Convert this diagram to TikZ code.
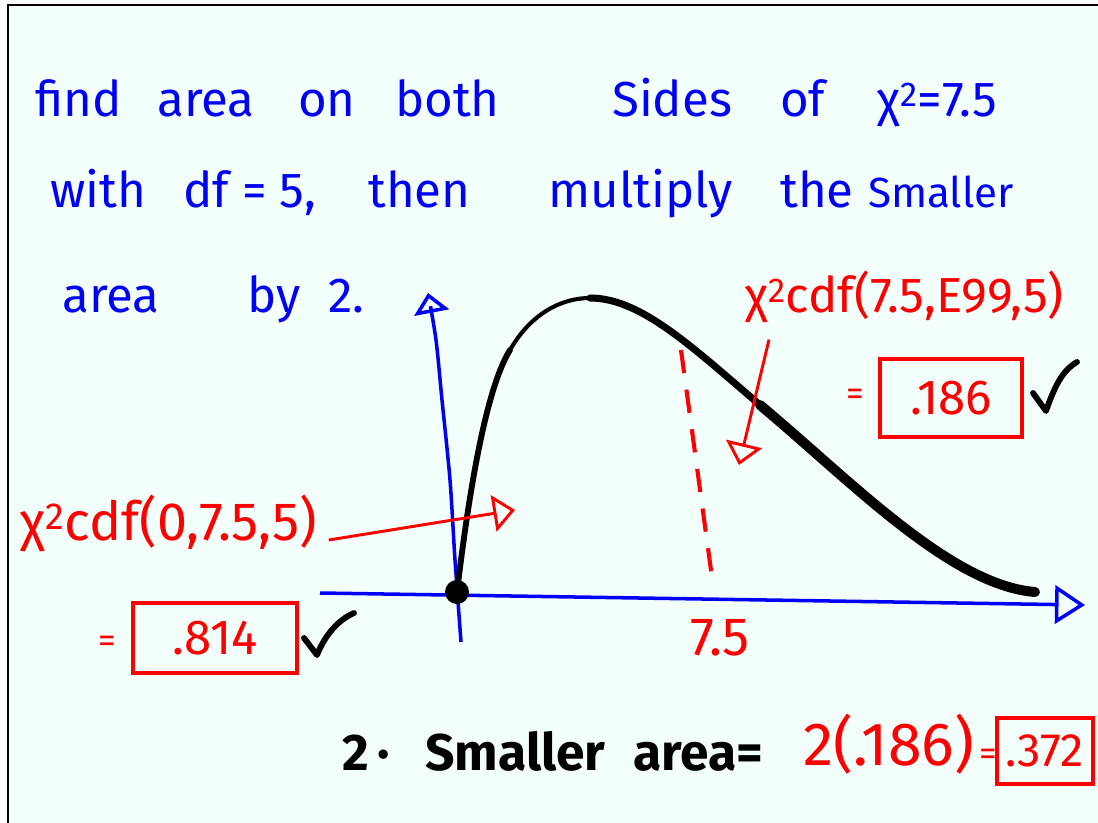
\documentclass[tikz,border=0pt]{standalone}
\usepackage{fontspec}
\setmainfont{Fira Sans}
\usetikzlibrary{arrows.meta}
\definecolor{paper}{HTML}{F2FFFB}
\definecolor{penblue}{HTML}{0000F5}
\definecolor{penred}{HTML}{FF0000}
\tikzset{
  say/.style={anchor=base west,inner sep=0pt,text=penblue,font=\fontsize{42}{50}\selectfont},
  calc/.style={say,text=penred,font=\fontsize{42}{50}\selectfont},
  ans/.style={draw=penred,line width=3.5pt,text=penred,inner sep=0pt,font=\fontsize{42}{50}\selectfont},
  total/.style={say,text=black,font=\fontsize{44}{52}\selectfont\bfseries},
  axis/.style={penblue,line width=3pt,-{Triangle[open,length=6mm,width=10.5mm]}},
  ptr/.style={penred,line width=2.5pt,-{Triangle[open,length=6.5mm,width=11mm]}},
  cut/.style={penred,line width=3.5pt,dash pattern=on 7mm off 5mm},
  tickmark/.style={line width=5pt,line cap=round,line join=round},
  curve/.style={line cap=round}
}

\begin{document}
\begin{tikzpicture}[x=0.03cm,y=-0.03cm]
\useasboundingbox (0,0) rectangle (1098,823);
\fill[white] (0,0) rectangle (1098,823);
\fill[paper] (8,5) rectangle (1098,823);
\draw[line width=2pt] (8,823) -- (8,5) -- (1098,5);

\node[say] (find) at (35,117) {find};
\node[say] (area1) at (157,117) {area};
\node[say] (on) at (298,117) {on};
\node[say] (both) at (395,117) {both};
\node[say] (sides) at (612,117) {Sides};
\node[say] (of) at (780,117) {of};
\node[say] (chi) at (877,117) {χ\textsuperscript{2}=7.5};
\node[say] (with) at (50,208) {with};
\node[say] (df) at (183,208) {df = 5,};
\node[say] (then) at (368,208) {then};
\node[say] (mult) at (548,208) {multiply};
\node[say] (the) at (780,208) {the};
\node[say,font=\fontsize{36}{44}\selectfont] (small) at (868,208) {Smaller};
\node[say] (area2) at (62,312) {area};
\node[say] (by) at (247,312) {by};
\node[say] (two) at (328,312) {2.};

\node[calc] (cdfhi) at (745,313) {χ\textsuperscript{2}cdf(7.5,E99,5)};
\node[calc,font=\fontsize{30}{36}\selectfont] (eqhi) at (846,405) {=};
\node[ans,minimum width=4.26cm,minimum height=2.34cm] (boxhi) at (951,398) {.186};
\node[calc,font=\fontsize{46}{54}\selectfont] (cdflo) at (20,540) {χ\textsuperscript{2}cdf(0,7.5,5)};
\node[calc,font=\fontsize{30}{36}\selectfont] (eqlo) at (98,652) {=};
\node[ans,minimum width=4.92cm,minimum height=2.1cm] (boxlo) at (215,638) {.814};
\node[calc,font=\fontsize{46}{54}\selectfont] (cut75) at (690,655) {7.5};

\coordinate (O) at (457,592);
\coordinate (xend) at (1085,605);
\coordinate (yend) at (428,293);
\draw[axis,-{Triangle[open,length=9mm,width=11.5mm]}] (320,593) -- (xend);
\draw[axis] plot[smooth] coordinates {(461,642) (455,560) (450,480) (442,400) (436,340) (yend)};

\draw[curve,line width=5pt] (O) .. controls (468,500) and (485,390) .. (510,350);
\draw[curve,line width=3.5pt] (510,350) .. controls (530,315) and (560,298) .. (590,298);
\draw[curve,line width=6pt] (590,298) .. controls (640,298) and (690,345) .. (760,405);
\draw[curve,line width=8.5pt] (760,405) .. controls (850,480) and (950,585) .. (1035,592);
\fill (O) circle (0.36cm);

\draw[cut] (681,350) -- (713,585);
\coordinate (tipA) at (515,510);
\coordinate (tipB) at (739,465);
\draw[ptr] ([xshift=0.35cm]cdflo.base east) -- (tipA);
\draw[ptr] ([xshift=0.72cm,yshift=-0.48cm]cdfhi.south west) -- (tipB);

\draw[tickmark] (1033,393) -- (1046,411) .. controls (1055,385) and (1063,370) .. (1077,362);
\draw[tickmark] (304,638) -- (317,655) .. controls (325,635) and (338,620) .. (354,613);

\node[total] (twodot) at (342,770) {2\,·};
\node[total] (smaller) at (425,770) {Smaller};
\node[total] (area3) at (633,770) {area=};
\node[calc,font=\fontsize{52}{60}\selectfont] (times) at (803,765) {2(.186)};
\node[calc,font=\fontsize{30}{36}\selectfont] (eqres) at (979,765) {=};
\node[ans,minimum width=2.88cm,minimum height=2cm,font=\fontsize{40}{48}\selectfont] (result) at (1045,751) {.372};
\end{tikzpicture}
\end{document}
